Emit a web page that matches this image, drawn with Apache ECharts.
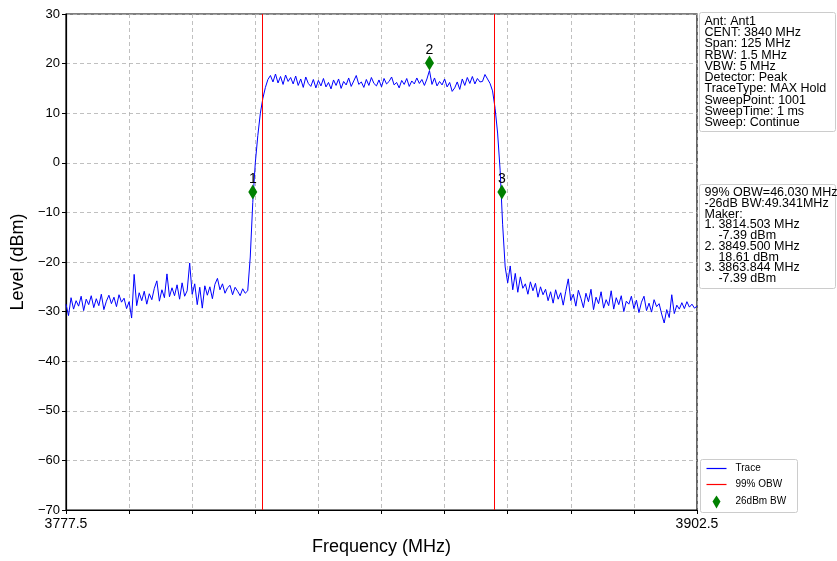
<!DOCTYPE html>
<html>
<head>
<meta charset="utf-8">
<script src="https://cdn.jsdelivr.net/npm/echarts@6/dist/echarts.min.js"></script>
<style>html,body{margin:0;padding:0;background:#fff;}#c{width:837px;height:561px;}</style>
</head>
<body>
<div id="c"></div>
<script>
// Sweep definition
var freqStart = 3777.5;
var freqStep = 0.5;
// Trace levels (dBm), one per sweep point
var traceLevels = [
-28.5,-30.8,-27.2,-29.5,-27.8,-28.9,-26.9,-29.8,-27.5,-28.6,
-26.8,-29.2,-27.4,-28.8,-26.5,-29.6,-27.9,-26.7,-28.4,-27.1,
-29.0,-26.6,-28.1,-27.3,-29.4,-28.0,-31.3,-22.5,-28.8,-26.2,
-27.8,-25.9,-28.5,-26.4,-27.6,-25.3,-23.8,-27.9,-25.6,-27.2,
-22.4,-27.0,-25.2,-26.8,-24.6,-27.5,-24.2,-26.9,-25.8,-20.2,
-26.5,-24.4,-28.6,-25.1,-29.3,-24.8,-26.7,-25.0,-27.4,-24.5,
-23.3,-25.6,-24.4,-26.3,-25.2,-24.7,-26.6,-25.1,-25.9,-26.8,
-25.4,-26.3,-25.8,
-19.0,-8.0,0.0,5.5,10.0,13.0,15.2,16.8,
17.6,16.3,17.9,16.1,17.4,15.8,17.7,16.4,17.2,15.9,
17.5,15.6,16.9,15.2,17.3,16.0,15.4,16.8,15.1,16.6,
15.5,17.0,15.3,16.2,14.9,16.7,15.6,16.9,15.0,16.4,
15.7,17.1,15.4,16.5,17.6,15.8,16.3,15.2,16.8,15.6,
17.2,16.0,15.5,16.7,15.3,17.0,15.9,16.4,17.3,15.7,
16.2,15.1,16.6,15.8,17.0,15.4,16.5,15.9,17.1,16.0,
16.8,15.6,16.9,18.6,15.8,17.1,15.5,16.4,15.7,16.9,
15.3,16.2,14.4,15.1,16.3,14.8,16.9,15.6,17.2,16.0,
17.4,15.9,17.0,16.3,16.4,17.8,
16.9,16.0,14.5,11.0,6.0,-1.5,-12.5,-21.0,
-24.2,-20.8,-25.6,-22.3,-26.1,-23.0,-25.3,-24.4,-26.5,-24.0,
-25.8,-24.3,-27.1,-25.0,-26.6,-25.5,-27.8,-26.0,-28.3,-25.6,
-27.5,-26.2,-28.7,-25.9,-23.4,-27.8,-26.5,-28.9,-25.7,-27.3,
-29.2,-26.3,-28.0,-25.5,-29.6,-27.1,-28.4,-26.0,-29.3,-27.6,
-28.8,-25.8,-29.5,-27.2,-28.6,-26.8,-30.0,-27.9,-28.5,-26.9,
-29.4,-27.7,-30.2,-28.1,-26.9,-29.8,-28.3,-30.1,-27.6,-29.0,
-28.4,-30.5,-32.3,-29.6,-31.2,-26.6,-30.4,-28.7,-29.5,-28.2,
-29.4,-28.0,-29.1,-28.5,-29.3,-28.9
];
// 99% OBW edges (MHz)
var obwEdges = [3816.3, 3862.3];
// Markers: frequency, plotted level, label
var markerFreqs = [3814.503, 3849.5, 3863.844];
var markerLevels = [-5.9, 20.1, -5.9];
var markerNames = ['1', '2', '3'];
// Axis ticks
var xMin = 3777.5, xMax = 3902.5, xInterval = 12.5;
var yMin = -70, yMax = 30, yInterval = 10;
// Info texts
var infoLines = ['Ant: Ant1','CENT: 3840 MHz','Span: 125 MHz','RBW: 1.5 MHz','VBW: 5 MHz','Detector: Peak','TraceType: MAX Hold','SweepPoint: 1001','SweepTime: 1 ms','Sweep: Continue'];
var measLines = ['99% OBW=46.030 MHz','-26dB BW:49.341MHz','Maker:','1. 3814.503 MHz','    -7.39 dBm','2. 3849.500 MHz','    18.61 dBm','3. 3863.844 MHz','    -7.39 dBm'];
var legendNames = ['Trace', '99% OBW', '26dBm BW'];

var traceData = traceLevels.map(function (v, i) { return [freqStart + i * freqStep, v]; });
var markerData = markerFreqs.map(function (f, i) { return { value: [f, markerLevels[i]], name: markerNames[i] }; });

var FONT = 'Arial, "Liberation Sans", Helvetica, sans-serif';
var chart = echarts.init(document.getElementById('c'), null, { renderer: 'canvas' });

function box(x, y, w, h, lines, lh) {
  return {
    type: 'group', left: x, top: y,
    children: [
      { type: 'rect', shape: { x: 0, y: 0, width: w, height: h, r: 2 }, style: { fill: '#fff', stroke: '#cccccc', lineWidth: 1 } },
      { type: 'text', x: 5, y: 3, style: { text: lines.join('\n'), font: '12.5px ' + FONT, fill: '#000', lineHeight: lh } }
    ]
  };
}

chart.setOption({
  animation: false,
  backgroundColor: '#fff',
  grid: { left: 66, right: 140, top: 14, bottom: 51, show: true, borderColor: '#000', borderWidth: 1.2, containLabel: false, outerBoundsMode: 'none' },
  xAxis: {
    type: 'value', min: xMin, max: xMax, interval: xInterval,
    name: 'Frequency (MHz)', nameLocation: 'middle', nameGap: 28,
    nameTextStyle: { fontFamily: FONT, fontSize: 18, color: '#000' },
    axisLine: { onZero: false, lineStyle: { color: '#000', width: 1.2 } },
    axisTick: { show: true, length: 4, lineStyle: { color: '#000' } },
    axisLabel: { fontFamily: FONT, fontSize: 14, color: '#000', margin: 7,
      formatter: function (v) { return (Math.abs(v - xMin) < 1e-6 || Math.abs(v - xMax) < 1e-6) ? v.toFixed(1) : ''; } },
    splitLine: { show: true, lineStyle: { color: '#b0b0b0', type: [4, 3], width: 0.8 } }
  },
  yAxis: {
    type: 'value', min: yMin, max: yMax, interval: yInterval,
    name: 'Level (dBm)', nameLocation: 'middle', nameGap: 39,
    nameTextStyle: { fontFamily: FONT, fontSize: 18, color: '#000' },
    axisLine: { show: true, onZero: false, lineStyle: { color: '#000', width: 1.2 } },
    axisTick: { show: true, length: 4, lineStyle: { color: '#000' } },
    axisLabel: { fontFamily: FONT, fontSize: 13, color: '#000', margin: 6,
      formatter: function (v) { return String(v).replace('-', '\u2212'); } },
    splitLine: { show: true, lineStyle: { color: '#b0b0b0', type: [4, 3], width: 0.8 } }
  },
  series: [
    {
      name: 'Trace', type: 'line', data: traceData, showSymbol: false, symbol: 'none',
      lineStyle: { color: '#0000ff', width: 1 }, z: 3,
      markLine: {
        silent: true, symbol: 'none', label: { show: false },
        lineStyle: { color: '#ff0000', width: 1, type: 'solid', opacity: 1 },
        data: obwEdges.map(function (f) { return { xAxis: f, lineStyle: { color: '#ff0000', width: 1, type: 'solid' } }; })
      }
    },
    {
      name: '26dBm BW', type: 'scatter', data: markerData, symbol: 'diamond', symbolSize: [9, 15],
      itemStyle: { color: '#008000', opacity: 1 }, z: 5,
      label: { show: true, position: 'top', distance: -2, formatter: '{b}', fontFamily: FONT, fontSize: 14, color: '#000' }
    }
  ],
  graphic: [
    box(699, 12, 136, 119, infoLines, 11.3),
    box(699, 184, 136, 104, measLines, 10.7),
    {
      type: 'group', left: 700, top: 459,
      children: [
        { type: 'rect', shape: { x: 0, y: 0, width: 97, height: 53, r: 2 }, style: { fill: '#fff', stroke: '#cccccc', lineWidth: 1 } },
        { type: 'line', shape: { x1: 6, y1: 9, x2: 26, y2: 9 }, style: { stroke: '#0000ff', lineWidth: 1.2 } },
        { type: 'text', x: 35, y: 4, style: { text: legendNames[0], font: '10px ' + FONT, fill: '#000' } },
        { type: 'line', shape: { x1: 6, y1: 25, x2: 26, y2: 25 }, style: { stroke: '#ff0000', lineWidth: 1.2 } },
        { type: 'text', x: 35, y: 20, style: { text: legendNames[1], font: '10px ' + FONT, fill: '#000' } },
        { type: 'polygon', shape: { points: [[16, 36], [20, 42], [16, 49], [12, 42]] }, style: { fill: '#008000' } },
        { type: 'text', x: 35, y: 37, style: { text: legendNames[2], font: '10px ' + FONT, fill: '#000' } }
      ]
    }
  ]
});
</script>
</body>
</html>
